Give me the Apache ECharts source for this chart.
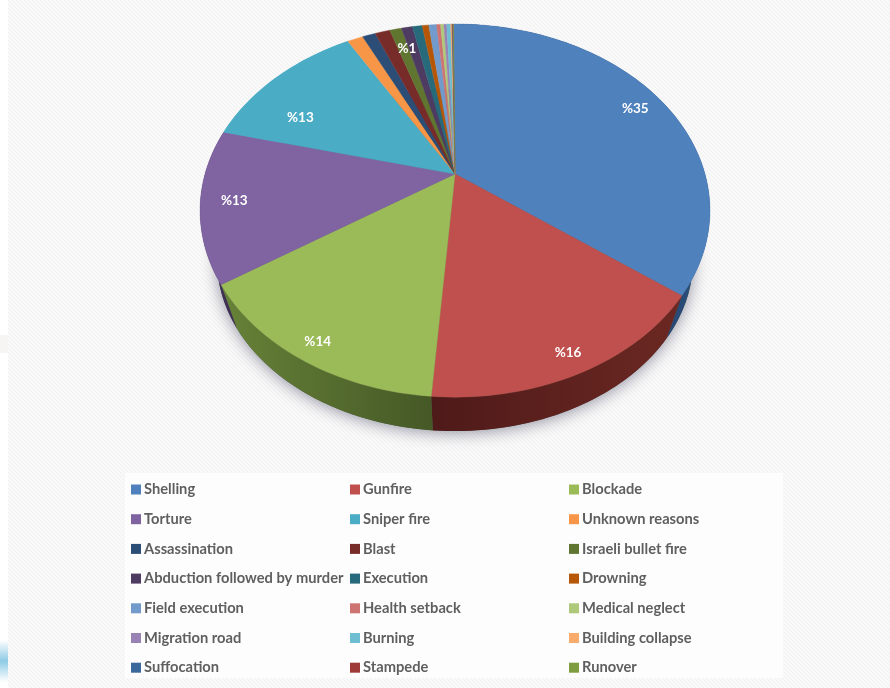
<!DOCTYPE html>
<html><head><meta charset="utf-8">
<style>html,body{margin:0;padding:0;background:#f8f8f8}#c{width:890px;height:688px;filter:blur(0.5px)}</style>
<script src="https://cdn.jsdelivr.net/npm/echarts@6/dist/echarts.min.js"></script>
</head><body><div id="c"></div>
<script>
// ---- data ----
const categories = ['Shelling','Gunfire','Blockade','Torture','Sniper fire','Unknown reasons','Assassination','Blast','Israeli bullet fire','Abduction followed by murder','Execution','Drowning','Field execution','Health setback','Medical neglect','Migration road','Burning','Building collapse','Suffocation','Stampede','Runover'];
const values = [35.3,15.99,14.49,13.2,12.7,1.2,1.0,1.15,0.9,0.85,0.75,0.5,0.6,0.3,0.25,0.22,0.3,0.1,0.05,0.04,0.03];
const colors = ['#4F81BD','#C0504D','#9BBB59','#8064A2','#4BACC6','#F79646','#2C4D75','#772C2A','#5F7530','#4D3B62','#276A7C','#B65708','#729ACA','#CD7371','#AFC97A','#9983B5','#6FBDD1','#F9AB6B','#3A679C','#9E3A38','#7E9D40'];
const labelled = ['Shelling','Gunfire','Blockade','Torture','Sniper fire','Israeli bullet fire'];
const wallColors = {Shelling:['#1c3557','#2a4d7a'],Gunfire:['#4e1a19','#6c2822'],Blockade:['#678238','#455826'],Torture:['#3f2f55','#3f2f55']};

// ---- tilted-disc projection ----
const CX=455, CY=174, SX=250, SY=179.4, P=0.196, START=-0.4;
const TOPRY=186.5, TOPCY=210.5, TOPRX=255, LOWRX=238, LOWRY=171, LOWCY=260;
const total = values.reduce((a,b)=>a+b,0);
const rad = d=>d*Math.PI/180;
function project(deg,r){
  const u=r*Math.sin(rad(deg)), v=-r*Math.cos(rad(deg)), w=1-P*v;
  return [CX+SX*u/w, CY+SY*v/w];
}
function lower(p){ return [CX+(p[0]-CX)*LOWRX/TOPRX, LOWCY+(p[1]-TOPCY)*LOWRY/TOPRY]; }
function startOf(i){ return START+values.slice(0,i).reduce((a,b)=>a+b,0)/total*360; }

function renderer(i){
  return function(params,api){
    const val=api.value(0), a0=startOf(i), a1=a0+val/total*360;
    const n=Math.max(2,Math.ceil((a1-a0)/1.5));
    const rim=[];
    for(let k=0;k<=n;k++) rim.push(project(a0+(a1-a0)*k/n,1));
    const children=[];
    const wc=wallColors[categories[i]];
    if(a1>60 && a0<300){
      const back=rim.map(lower).reverse();
      children.push({type:'polygon',z2:1,shape:{points:rim.concat(back)},
        style:{fill:wc?new echarts.graphic.LinearGradient(0,0,1,0,[{offset:0,color:wc[0]},{offset:1,color:wc[1]}]):colors[i]}});
    }
    children.push({type:'polygon',z2:10,shape:{points:[[CX,CY]].concat(rim)},
      style:{fill:colors[i],stroke:colors[i],lineWidth:0.4}});
    if(labelled.includes(categories[i])){
      const name=categories[i];
      const sniper=name==='Sniper fire', near=name==='Gunfire'||name==='Blockade', small=val<5;
      const p=project((a0+a1)/2-(sniper?10:0)+(small?1:0),sniper?0.74:near?0.915:small?0.84:0.87);
      children.push({type:'text',z2:20,style:{text:'%'+Math.round(val),x:p[0],y:p[1],fill:'#fff',
        font:'bold 13.5px Lato',align:'center',verticalAlign:'middle'}});
    }
    return {type:'group',children};
  };
}
const series=categories.map((name,i)=>({
  type:'custom',coordinateSystem:'none',name,data:[[values[i]]],renderItem:renderer(i),
  itemStyle:{color:colors[i]},silent:true,animation:false,clip:false
}));
const col=c=>categories.filter((_,i)=>i%3===c);
const legend=[131,350,569].map((left,c)=>({
  data:col(c),orient:'vertical',left,top:482,height:205,itemWidth:10,itemHeight:10,itemGap:14.7,
  icon:'rect',padding:0,selectedMode:false,
  textStyle:{color:'#5f5f5f',fontFamily:'Lato',fontWeight:'bold',fontSize:14.7,padding:[0,0,0,-2]}
}));
// faint diagonal paper texture
const tex=document.createElement('canvas');tex.width=tex.height=4;
const t=tex.getContext('2d');t.fillStyle='#f9f9f9';t.fillRect(0,0,4,4);t.fillStyle='#f1f1f1';
for(let k=0;k<4;k++)t.fillRect(k,k,1,1);

const chart=echarts.init(document.getElementById('c'),null,{renderer:'canvas'});
chart.setOption({
  animation:false,
  backgroundColor:{image:tex,repeat:'repeat'},
  legend,
  series,
  graphic:[
    {type:'rect',z:-1,shape:{x:0,y:0,width:8,height:688},style:{fill:'#fff'},silent:true},
    {type:'rect',z:-1,shape:{x:0,y:335,width:8,height:18},style:{fill:'#f7f5f3'},silent:true},
    {type:'rect',z:-1,shape:{x:0,y:640,width:8,height:42},
      style:{fill:new echarts.graphic.LinearGradient(0,0,0,1,[{offset:0,color:'#ffffff'},{offset:0.5,color:'#8fcbe6'},{offset:1,color:'#ffffff'}])},silent:true},
    {type:'rect',z:-1,shape:{x:125,y:473,width:658,height:205},style:{fill:'#fdfdfd'},silent:true},
    {type:'ellipse',z:-1,shape:{cx:CX,cy:LOWCY,rx:LOWRX,ry:LOWRY},
      style:{fill:'#555',shadowBlur:16,shadowColor:'rgba(60,60,90,0.55)',shadowOffsetY:2},silent:true}
  ]
});
</script></body></html>
